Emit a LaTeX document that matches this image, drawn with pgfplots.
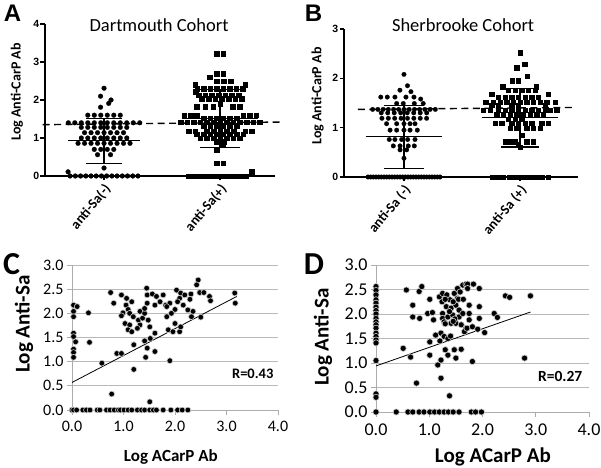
\documentclass[border=0pt]{standalone}
\usepackage{fontspec}
\setmainfont{Carlito}
\newfontfamily\arial{Liberation Sans}
\usepackage{pgfplots}
\pgfplotsset{compat=1.18}
\newcommand{\fs}[1]{\fontsize{#1bp}{#1bp}\selectfont}
\pgfplotsset{
  gp/.style={scale only axis, clip=false, axis x line=bottom, axis y line=left,
    axis line style={-, line width=1.7bp, black},
    tick style={line width=1.5bp, black},
    tick align=outside, major tick length=4.5bp,
    /pgf/number format/assume math mode=true,
    yticklabel style={font=\arial\bfseries\fs{10.5}, inner sep=1bp},
    xtick={1,2},
    xticklabel style={font=\bfseries\fs{14}, rotate=50, anchor=east, inner sep=1bp, xshift=-1bp, yshift=-7bp},
    ylabel style={font=\bfseries\fs{14}, anchor=center},
    title style={font=\fs{18.5}, anchor=center}},
  ex/.style={scale only axis, clip=false, axis lines=left,
    axis line style={-, line width=0.9bp, gray!65},
    xmin=0, xmax=4, ymin=0, ymax=3,
    xtick={0,1,2,3,4}, ytick={0,0.5,1,1.5,2,2.5,3},
    ymajorgrids, grid style={gray!55, line width=0.9bp},
    tick align=outside, major tick length=5bp, tick style={gray!65, line width=0.9bp},
    /pgf/number format/assume math mode=true,
    xticklabel={\pgfmathprintnumber[fixed,fixed zerofill,precision=1]{\tick}},
    yticklabel={\pgfmathprintnumber[fixed,fixed zerofill,precision=1]{\tick}},
    xticklabel style={yshift=-3bp},
    ylabel style={font=\bfseries\fs{21}, anchor=center},
    xlabel style={font=\bfseries\fs{17}, anchor=center}},
  dot/.style={only marks, mark=*, mark size=2.4bp, mark options={fill=black, draw=black, line width=0.2bp}},
  sq/.style={only marks, mark=square*, mark size=2.3bp, mark options={fill=black, draw=black, line width=0.2bp}},
  xl/.style={only marks, mark=*, mark size=2.9bp, mark options={fill=black, draw=gray!40, line width=0.6bp}},
  stat/.style={black, line width=1.3bp},
  dsh/.style={black, line width=1.4bp, dash pattern=on 7bp off 4.5bp}
}
\begin{document}
\begin{tikzpicture}
\path[use as bounding box] (0,0) rectangle (601bp,468bp);
% ---------------- Panel A
\begin{axis}[gp, at={(45bp,292bp)}, anchor=south west, width=230bp, height=152bp,
  xmin=0.491, xmax=2.474, ymin=0, ymax=4, ytick={0,1,2,3,4},
  xticklabels={anti-Sa(-),anti-Sa(+)},
  title={Dartmouth Cohort}, title style={at={(axis description cs:0.496,0.954)}},
  ylabel={Log Anti-CarP Ab}, ylabel style={at={(axis description cs:-0.122,0.553)}}]
\addplot[dot] coordinates {
 (1.0,2.31) (0.97,2.10) (1.06,2.00) (1.04,1.91) (0.97,1.81)
 (0.86,1.6) (0.916,1.6) (0.972,1.6) (1.028,1.6) (1.084,1.6) (1.14,1.6)
 (0.692,1.4) (0.748,1.4) (0.804,1.4) (0.86,1.4) (0.916,1.4) (0.972,1.4) (1.028,1.4) (1.084,1.4) (1.14,1.4) (1.196,1.4) (1.252,1.4) (1.308,1.4)
 (0.804,1.28) (0.86,1.28) (0.916,1.28) (0.972,1.28) (1.028,1.28) (1.084,1.28) (1.14,1.28) (1.196,1.28)
 (0.832,1.14) (0.888,1.14) (0.944,1.14) (1.0,1.14) (1.056,1.14) (1.112,1.14) (1.168,1.14)
 (0.804,1.0) (0.86,1.0) (0.916,1.0) (0.972,1.0) (1.028,1.0) (1.084,1.0) (1.14,1.0) (1.196,1.0)
 (0.776,0.86) (0.832,0.86) (0.888,0.86) (0.944,0.86) (1.0,0.86) (1.056,0.86) (1.112,0.86) (1.168,0.86) (1.224,0.86)
 (0.916,0.7) (0.972,0.7) (1.028,0.7) (1.084,0.7)
 (0.944,0.56) (1.056,0.56) (1.0,0.21) (0.69,0.11)
 (0.7075,0) (0.7525,0) (0.7975,0) (0.8425,0) (0.8875,0) (0.9325,0) (0.9775,0) (1.0225,0) (1.0675,0) (1.1125,0) (1.1575,0) (1.2025,0) (1.2475,0) (1.2925,0)
};
\addplot[sq] coordinates {
 (1.972,3.22) (2.028,3.22) (1.972,2.70) (2.028,2.70) (1.91,2.60)
 (1.97,2.50) (2.03,2.50) (2.09,2.50) (1.785,2.40) (2.215,2.40)
 (1.804,2.3) (1.86,2.3) (1.916,2.3) (1.972,2.3) (2.028,2.3) (2.084,2.3) (2.14,2.3) (2.196,2.3)
 (1.79,2.22)
 (1.813,2.13) (1.871,2.13) (1.928,2.13) (1.986,2.13) (2.043,2.13) (2.10,2.13) (2.158,2.13)
 (1.842,2.04) (1.90,2.04) (1.957,2.04) (2.014,2.04) (2.072,2.04) (2.129,2.04) (2.187,2.04)
 (2.0,1.90)
 (1.80,1.82) (1.87,1.82) (1.94,1.82) (2.11,1.82) (2.17,1.82)
 (1.69,1.6) (1.745,1.6) (1.80,1.6) (2.20,1.6) (2.255,1.6) (2.31,1.6)
 (1.858,1.52) (1.915,1.52) (1.972,1.52) (2.028,1.52) (2.085,1.52) (2.142,1.52)
 (1.658,1.42) (1.715,1.42) (1.772,1.42) (1.829,1.42) (1.886,1.42) (1.943,1.42) (2.0,1.42) (2.057,1.42) (2.114,1.42) (2.171,1.42) (2.228,1.42) (2.285,1.42) (2.342,1.42)
 (1.858,1.32) (1.915,1.32) (1.972,1.32) (2.028,1.32) (2.085,1.32) (2.142,1.32)
 (1.73,1.18) (1.785,1.18) (1.885,1.18) (1.943,1.18) (2.0,1.18) (2.057,1.18) (2.115,1.18) (2.215,1.18) (2.27,1.18)
 (1.80,1.10) (1.857,1.10) (1.914,1.10) (1.971,1.10) (2.028,1.10) (2.085,1.10) (2.142,1.10) (2.2,1.10)
 (1.829,1.0) (1.886,1.0) (1.943,1.0) (2.0,1.0) (2.057,1.0) (2.114,1.0) (2.171,1.0)
 (1.97,0.90) (2.03,0.90) (2.02,0.82) (1.97,0.70)
 (1.972,0.34) (2.028,0.34) (2.27,0.11)
 (1.73,0) (1.775,0) (1.82,0) (1.865,0) (1.91,0) (1.955,0) (2.0,0) (2.045,0) (2.09,0) (2.135,0) (2.18,0) (2.225,0)
};
% mean and SD bars
\addplot[stat] coordinates {(0.69,0.93) (1.31,0.93)};
\addplot[stat] coordinates {(1.0,0.32) (1.0,1.52)};
\addplot[stat] coordinates {(0.845,1.52) (1.155,1.52)};
\addplot[stat] coordinates {(0.845,0.32) (1.155,0.32)};
\addplot[stat] coordinates {(1.67,1.51) (2.33,1.51)};
\addplot[stat] coordinates {(2.0,0.75) (2.0,2.28)};
\addplot[stat] coordinates {(1.83,2.28) (2.17,2.28)};
\addplot[stat] coordinates {(1.83,0.75) (2.17,0.75)};
\addplot[dsh] coordinates {(0.47,1.35) (2.52,1.42)};
\end{axis}
% ---------------- Panel B
\begin{axis}[gp, at={(344bp,291bp)}, anchor=south west, width=234bp, height=148bp,
  xmin=0.483, xmax=2.5, ymin=0, ymax=3, ytick={0,1,2,3},
  xticklabels={anti-Sa (-),anti-Sa (+)},
  title={Sherbrooke Cohort}, title style={at={(axis description cs:0.509,0.986)}},
  ylabel={Log Anti-CarP Ab}, ylabel style={at={(axis description cs:-0.113,0.547)}}]
\addplot[dot, mark size=2.3bp] coordinates {
 (1.0,2.08) (1.03,1.85) (0.965,1.76) (1.06,1.73)
 (0.80,1.62) (0.856,1.62) (0.922,1.62) (1.017,1.62) (1.086,1.62) (1.144,1.58)
 (0.937,1.49) (0.994,1.49) (1.089,1.49) (1.166,1.49)
 (0.73,1.37) (0.775,1.37) (0.82,1.37) (0.865,1.37) (0.91,1.37) (0.955,1.37) (1.0,1.37) (1.045,1.37) (1.09,1.37) (1.135,1.37) (1.18,1.37) (1.225,1.37) (1.27,1.37)
 (0.804,1.30) (0.86,1.30) (0.916,1.30) (0.972,1.30) (1.028,1.30) (1.084,1.30) (1.14,1.30) (1.196,1.30)
 (0.81,1.19) (0.865,1.19) (0.92,1.19) (0.975,1.19) (1.03,1.19) (1.085,1.19) (1.14,1.19) (1.195,1.19)
 (0.85,1.08) (0.937,1.08) (1.0,1.08) (1.052,1.08) (1.095,1.08)
 (0.88,0.95) (0.937,0.95) (1.0,0.95) (1.052,0.95) (1.115,0.95)
 (0.873,0.76) (0.922,0.76) (0.98,0.76) (1.032,0.76) (1.095,0.76)
 (0.908,0.63) (0.966,0.63) (1.037,0.63) (1.089,0.63)
 (0.966,0.55) (1.023,0.55) (1.0,0.38)
 (0.69,0) (0.713,0) (0.736,0) (0.759,0) (0.782,0) (0.805,0) (0.828,0) (0.851,0) (0.874,0) (0.897,0) (0.92,0) (0.943,0) (0.966,0) (0.989,0)
 (1.012,0) (1.035,0) (1.058,0) (1.081,0) (1.104,0) (1.127,0) (1.15,0) (1.173,0) (1.196,0) (1.219,0) (1.242,0) (1.265,0) (1.288,0) (1.311,0)
};
\addplot[sq, mark size=2.2bp] coordinates {
 (2.0,2.52) (2.04,2.29) (1.97,2.22) (2.063,2.05) (1.934,1.95) (1.986,1.95)
 (1.85,1.83) (2.14,1.83)
 (1.90,1.76) (1.957,1.76) (2.014,1.76) (2.072,1.76) (2.13,1.76)
 (1.756,1.68) (2.244,1.68)
 (1.813,1.62) (1.871,1.62) (1.928,1.62) (1.986,1.62) (2.043,1.62) (2.10,1.62) (2.158,1.62)
 (1.704,1.52) (1.77,1.52) (1.828,1.52) (1.885,1.52) (1.943,1.52) (2.0,1.52) (2.057,1.52) (2.115,1.52) (2.172,1.52) (2.23,1.52) (2.302,1.52)
 (1.756,1.46) (1.813,1.46) (1.928,1.46) (1.986,1.46) (2.216,1.46)
 (1.684,1.36) (1.741,1.36) (1.813,1.36) (1.871,1.36) (1.928,1.36) (1.986,1.36) (2.043,1.36) (2.10,1.36) (2.158,1.36) (2.216,1.36) (2.259,1.36) (2.316,1.36)
 (1.80,1.28) (1.856,1.28) (1.914,1.28) (1.971,1.28) (2.029,1.28) (2.086,1.28) (2.144,1.28) (2.20,1.28)
 (1.90,1.17) (1.957,1.17) (2.014,1.17)
 (1.784,1.09) (1.842,1.09) (1.928,1.09) (1.986,1.09) (2.043,1.09) (2.10,1.09) (2.187,1.09) (2.244,1.09)
 (1.914,0.99) (1.971,0.99) (2.057,0.99) (2.115,0.99) (2.172,0.99)
 (2.014,0.85)
 (1.871,0.72) (1.914,0.72) (1.957,0.72) (2.057,0.72) (2.115,0.72)
 (1.986,0.67) (2.0,0.60)
 (1.76,0) (1.808,0) (1.856,0) (1.904,0) (1.952,0) (2.0,0) (2.048,0) (2.096,0) (2.144,0) (2.192,0) (2.24,0)
};
\addplot[stat] coordinates {(0.67,0.82) (1.33,0.82)};
\addplot[stat] coordinates {(1.0,0.17) (1.0,1.45)};
\addplot[stat] coordinates {(0.825,1.45) (1.175,1.45)};
\addplot[stat] coordinates {(0.83,0.17) (1.17,0.17)};
\addplot[stat] coordinates {(1.67,1.21) (2.33,1.21)};
\addplot[stat] coordinates {(2.0,0.61) (2.0,1.80)};
\addplot[stat] coordinates {(1.85,1.80) (2.15,1.80)};
\addplot[stat] coordinates {(1.84,0.61) (2.16,0.61)};
\addplot[dsh] coordinates {(0.603,1.37) (2.483,1.41)};
\end{axis}
% ---------------- Panel C
\begin{axis}[ex, at={(72bp,58bp)}, anchor=south west, width=206bp, height=145bp,
  ticklabel style={font=\fs{16}},
  xlabel={Log ACarP Ab}, xlabel style={at={(axis description cs:0.48,-0.324)}},
  ylabel={Log Anti-Sa}, ylabel style={at={(axis description cs:-0.233,0.593)}}]
\addplot[xl] coordinates {
 (0.03,2.17) (0.10,2.14) (0.03,2.04) (0.03,1.93) (0.03,1.59) (0.03,1.52) (0.07,1.41) (0.03,1.26) (0.03,1.19) (0.03,1.09)
 (0.32,2.01) (0.34,1.40) (0.58,0.97) (0.75,2.43) (0.81,2.21) (0.77,0.33) (0.87,1.17) (0.96,1.17) (0.96,2.38) (1.06,2.31)
 (1.05,2.17) (1.16,2.24) (1.09,2.08) (0.99,2.01) (1.12,2.0) (0.96,1.95) (1.19,1.93) (1.03,1.79) (1.12,1.76) (1.09,1.66)
 (1.16,1.62) (1.20,1.35) (1.20,0.84) (1.32,2.04) (1.29,1.86) (1.37,1.90) (1.32,1.76) (1.27,1.69) (1.41,2.0) (1.45,2.52)
 (1.46,2.38) (1.46,2.21) (1.41,2.10) (1.48,1.86) (1.51,1.72) (1.41,1.43) (1.46,1.28) (1.43,1.09) (1.51,0.17) (1.56,2.40)
 (1.64,2.35) (1.71,2.24) (1.61,2.17) (1.77,2.38) (1.82,2.17) (1.84,1.93) (1.87,1.66) (1.61,1.21) (1.61,1.59) (1.52,1.48)
 (2.45,2.69) (2.42,2.59) (2.48,2.43) (2.56,2.43) (2.67,2.35) (2.69,2.26) (3.16,2.42) (3.17,2.21) (2.03,2.48) (2.11,2.42)
 (2.09,2.31) (2.19,2.38) (2.31,2.40) (2.29,2.29) (1.90,2.21) (2.05,2.24) (2.16,2.17) (2.0,2.08) (1.84,2.14) (2.25,2.07)
 (2.35,2.04) (2.32,1.93) (2.5,1.92) (1.93,2.0) (2.0,1.79) (1.96,1.62) (2.09,1.62) (2.11,1.72) (1.90,1.02)
 (0,0) (0.03,0) (0.09,0) (0.21,0) (0.28,0) (0.35,0) (0.49,0) (0.54,0) (0.67,0) (0.74,0) (0.82,0) (0.90,0) (0.94,0) (1.01,0)
 (1.09,0) (1.16,0) (1.27,0) (1.35,0) (1.41,0) (1.51,0) (1.58,0) (1.64,0) (1.77,0) (1.92,0) (2.05,0) (2.14,0) (2.25,0)
};
\addplot[black, line width=0.8bp] coordinates {(0.0,0.57) (3.2,2.35)};
\node[font=\bfseries\fs{14.5}] at (axis cs:3.51,0.745) {R=0.43};
\end{axis}
% ---------------- Panel D
\begin{axis}[ex, at={(376bp,56bp)}, anchor=south west, width=213bp, height=147bp,
  ticklabel style={font=\fs{18}},
  xlabel={Log ACarP Ab}, xlabel style={at={(axis description cs:0.549,-0.306)}, font=\bfseries\fs{21}},
  ylabel={Log Anti-Sa}, ylabel style={at={(axis description cs:-0.249,0.51)}}]
\addplot[xl, mark size=3.1bp] coordinates {
 (0,2.56) (0,2.48) (0,2.39) (0,2.29) (0,2.22) (0,2.14) (0,2.07) (0,2.0) (0,1.91) (0,1.84) (0,1.78) (0,1.71) (0,1.61) (0,1.54) (0,1.47) (0,1.41) (0,1.05) (0,0.37) (0,0.30)
 (0.57,2.49) (0.81,2.46) (0.86,2.56) (0.69,2.18) (1.01,2.30) (0.69,1.94) (0.82,1.91) (0.97,2.01) (1.06,2.03) (1.08,1.88)
 (0.51,1.30) (0.65,1.12) (1.01,1.16) (1.01,1.43) (0.76,0.59) (1.16,0.96) (1.22,1.06) (1.12,1.57) (1.22,1.61) (1.28,1.54)
 (1.35,1.50) (1.30,1.27) (1.35,1.16) (1.47,1.27) (1.50,1.10) (1.22,0.69) (1.38,0.33) (1.60,1.28) (1.19,2.35) (1.24,2.25)
 (1.25,2.42) (1.33,2.39) (1.39,2.29) (1.47,2.42) (1.53,2.52) (1.63,2.59) (1.69,2.61) (1.53,2.32) (1.32,2.15) (1.41,2.12)
 (1.50,2.18) (1.56,2.08) (1.25,2.01) (1.25,1.91) (1.35,1.94) (1.44,1.98) (1.56,1.94) (1.63,2.01) (1.28,1.84) (1.41,1.81)
 (1.50,1.81) (1.60,1.78) (1.69,1.71) (1.66,1.64)
 (1.72,2.61) (1.83,2.61) (1.94,2.52) (1.72,2.52) (2.43,2.37) (2.51,2.34) (2.90,2.37) (1.75,2.18) (1.94,2.15) (1.75,2.01)
 (1.94,1.91) (1.75,1.88) (2.22,2.01) (2.28,1.93) (1.71,1.71) (1.81,1.74) (1.91,1.69) (2.04,1.62) (1.81,1.03) (2.79,1.10)
 (1.30,2.30) (1.45,2.25) (1.58,2.45) (1.38,2.05) (1.48,1.90) (1.55,2.30) (1.64,2.30) (1.40,1.55) (1.30,1.80) (1.20,1.45) (1.45,1.85)
 (0,0) (0.38,0) (0.60,0) (0.69,0) (0.81,0) (0.90,0) (1.01,0) (1.10,0) (1.19,0) (1.28,0) (1.36,0) (1.45,0) (1.56,0) (1.79,0) (1.87,0) (1.98,0)
};
\addplot[black, line width=0.8bp] coordinates {(0.0,0.94) (2.9,2.04)};
\node[font=\bfseries\fs{15.5}] at (axis cs:3.46,0.72) {R=0.27};
\end{axis}
% panel letters
\node[font=\arial\bfseries\fs{24}] at (12.5bp,454.5bp) {A};
\node[font=\arial\bfseries\fs{24}] at (313.5bp,454.5bp) {B};
\node[font=\bfseries\fs{32}] at (11.5bp,204bp) {C};
\node[font=\bfseries\fs{32}] at (314bp,204bp) {D};
\end{tikzpicture}
\end{document}
